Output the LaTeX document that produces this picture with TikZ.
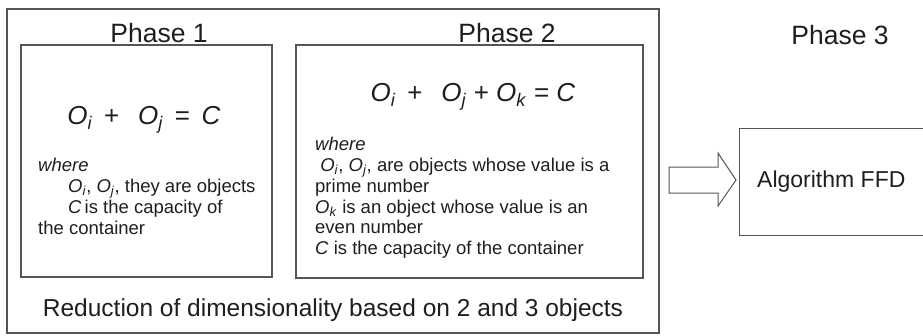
\documentclass[tikz,border=0pt]{standalone}
\usepackage{fontspec}
\setmainfont{Liberation Sans}
\usetikzlibrary{positioning}
\definecolor{lngray}{RGB}{85,85,85}
\definecolor{txgray}{RGB}{30,30,30}
\newcommand{\objsub}[1]{\textit{O}\textsubscript{\textit{#1}}}
\tikzset{
  outerbox/.style={draw=lngray, line width=1.1pt, minimum width=652pt, minimum height=324pt, inner sep=0pt},
  phasebox/.style={draw=lngray, line width=1.3pt, inner sep=0pt},
  phaselbl/.style={font=\fontsize{26.5}{26.5}\selectfont, text=txgray, inner sep=0pt},
  eqn/.style={font=\fontsize{26}{26}\selectfont, text=txgray, inner sep=0pt},
  notes/.style={font=\fontsize{18.5}{20.8}\selectfont, text=txgray, align=left, inner sep=0pt, anchor=north west},
  caption/.style={font=\fontsize{24.5}{24.5}\selectfont, text=txgray, inner sep=0pt},
  blockarr/.style={draw=lngray, line width=1pt, fill=white, line join=miter},
}
\begin{document}
\begin{tikzpicture}[x=1pt, y=-1pt]
  \useasboundingbox (0,0) rectangle (923,335);
  % phase 1 and 2 frame
  \node[outerbox] (red) at (333,171) {};
  \node[phasebox, minimum width=251pt, minimum height=232pt] (ph1) at (146.5,161) {};
  \node[phasebox, minimum width=347pt, minimum height=233pt] (ph2) at (469.5,161.5) {};
  \node[phaselbl] (lbl1) at (159,33) {Phase 1};
  \node[phaselbl] (lbl2) at (507,33) {Phase 2};
  \node[phaselbl] (lbl3) at (840,35) {Phase 3};
  % formulas
  \node[eqn] (eq1) at (144,120) {\objsub{i} \,+\, \ \objsub{j} \,=\, \textit{C}};
  \node[eqn] (eq2) at (473,97) {\objsub{i} \,+\, \ \objsub{j} + \objsub{k} = \textit{C}};
  \node[notes] (nt1) at (38,158) {\textit{where}\\
    \hspace*{30pt}\objsub{i}, \objsub{j}, they are objects\\
    \hspace*{30pt}\textit{C}\,is the capacity of\\
    the container};
  \node[notes] (nt2) at (315,137) {\textit{where}\\
    \ \objsub{i}, \objsub{j}, are objects whose value is a\\
    prime number\\
    \objsub{k} is an object whose value is an\\
    even number\\
    \textit{C} is the capacity of the container};
  \node[caption] (cap) at (333,310) {Reduction of dimensionality based on 2 and 3 objects};
  % phase 3
  \node[phasebox, minimum width=200pt, minimum height=107pt, anchor=north west] (ffd) at (739,128) {};
  \node[font=\fontsize{23}{23}\selectfont, text=txgray, inner sep=0pt, anchor=west] (alg) at (757,182) {Algorithm FFD};
  \draw[blockarr] (669,167) -- (718,167) -- (718,153) -- (736,180) -- (718,206)
    -- (718,193) -- (669,193) -- cycle;
\end{tikzpicture}
\end{document}
